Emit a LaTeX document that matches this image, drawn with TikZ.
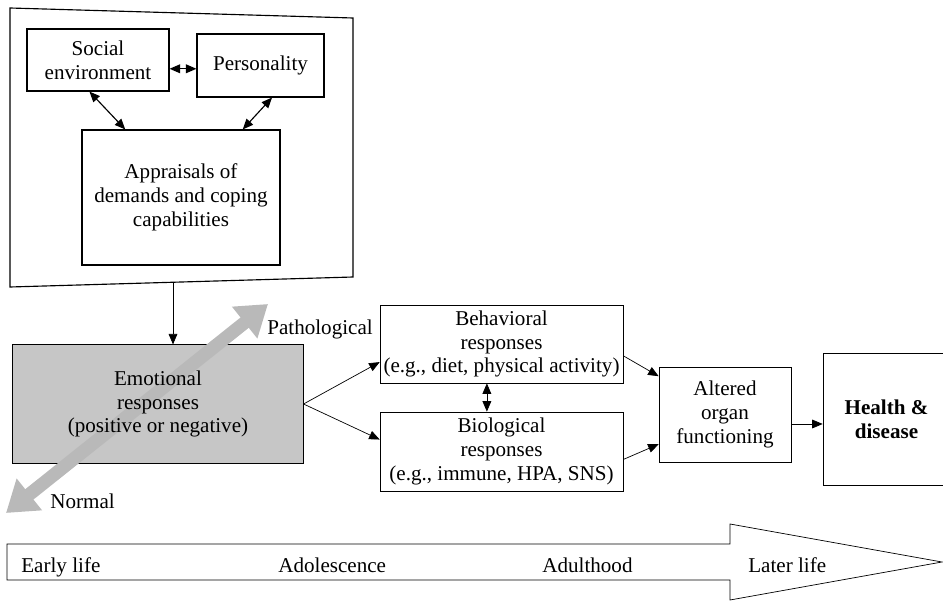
\documentclass[tikz,border=0pt]{standalone}
\usepackage{fontspec}
\setmainfont{Liberation Serif}
\usetikzlibrary{arrows.meta,calc}
\pgfdeclarelayer{background}
\pgfsetlayers{background,main}
\tikzset{
  box/.style={draw, align=center, inner sep=1pt, font=\fontsize{12}{13.6}\selectfont},
  lbl/.style={anchor=base west, inner sep=0pt, font=\fontsize{12}{13.6}\selectfont},
  arr/.style={-{Triangle[length=6pt,width=5pt]}},
  dbl/.style={{Triangle[length=6pt,width=5pt]}-{Triangle[length=6pt,width=5pt]}},
  bigarr/.style={line width=7.5pt, draw=gray!55,
    {Triangle[length=17pt,width=22pt]}-{Triangle[length=17pt,width=22pt]}}
}
\begin{document}
\begin{tikzpicture}[x=0.02cm, y=-0.02cm, line width=0.65pt]
    \useasboundingbox (0,0) rectangle (943,601);
    % frame round the appraisal part
    \draw (10,8) -- (353,18) -- (353,277) -- (10,287) -- cycle;
    \coordinate (frameB) at (173,282);
    \node[box, minimum width=2.84cm, minimum height=1.24cm] (soc) at (98,60) {Social\\environment};
    \node[box, minimum width=2.54cm, minimum height=1.26cm] (pers) at (260.5,65.5) {Personality};
    \node[box, minimum width=3.96cm, minimum height=2.70cm] (appr) at (181,197.5) {Appraisals of\\demands and coping\\capabilities};
    \draw[dbl] ([yshift=-5pt]soc.east) -- ([yshift=-5pt]soc.east -| pers.west);
    \draw[dbl] ($(soc.south west)!0.44!(soc.south east)$) -- ($(appr.north west)!0.22!(appr.north east)$);
    \draw[dbl] ($(pers.south west)!0.59!(pers.south east)$) -- ($(appr.north west)!0.81!(appr.north east)$);
    % emotional responses
    \node[box, draw=none, minimum width=5.80cm, minimum height=2.36cm] (emo) at (158,404) {Emotional\\responses\\(positive or negative)};
    \coordinate (normEnd) at (6,513);
    \coordinate (pathEnd) at (268,304);
    \begin{pgfonlayer}{background}
        \filldraw[fill=gray!45] (emo.south west) rectangle (emo.north east);
        \draw[bigarr] (normEnd) -- (pathEnd);
    \end{pgfonlayer}
    \draw[arr] (frameB) -- (frameB |- emo.north);
    \node[lbl] (path) at (267,334) {Pathological};
    \node[lbl] (norm) at (50,508) {Normal};
    % responses
    \node[box, minimum width=4.86cm, minimum height=1.56cm] (beh) at (501.5,344) {Behavioral\\responses\\(e.g., diet, physical activity)};
    \node[box, minimum width=4.86cm, minimum height=1.58cm] (bio) at (501.5,451.5) {Biological\\responses\\(e.g., immune, HPA, SNS)};
    \node[box, minimum width=2.64cm, minimum height=1.90cm] (alt) at (725,414.5) {Altered\\organ\\functioning};
    \node[box, minimum width=2.54cm, minimum height=2.64cm, font=\fontsize{12}{13.6}\selectfont\bfseries] (hlth) at (886.5,419) {Health \&\\disease};
    \draw[arr] (emo.east) -- ($(beh.north west)!0.73!(beh.south west)$);
    \draw[arr] (emo.east) -- ($(bio.north west)!0.35!(bio.south west)$);
    \draw[dbl] ($(beh.south west)!0.44!(beh.south east)$) coordinate (bb) -- (bb |- bio.north);
    \draw[arr] ($(beh.north east)!0.65!(beh.south east)$) -- ($(alt.north west)!0.1!(alt.south west)$);
    \draw[arr] ($(bio.north east)!0.6!(bio.south east)$) -- ($(alt.north west)!0.81!(alt.south west)$);
    \draw[arr] ([yshift=-5.4pt]alt.east) -- ([yshift=-5.4pt]alt.east -| hlth.west);
    % life course
    \draw (7,544) -- (730,544) -- (730,524) -- (942,562) -- (730,600) -- (730,580) -- (7,580) -- cycle;
    \node[lbl] (early) at (21,572) {Early life};
    \node[lbl] (adol) at (278,572) {Adolescence};
    \node[lbl] (adult) at (542,572) {Adulthood};
    \node[lbl] (later) at (748,572) {Later life};
\end{tikzpicture}
\end{document}
